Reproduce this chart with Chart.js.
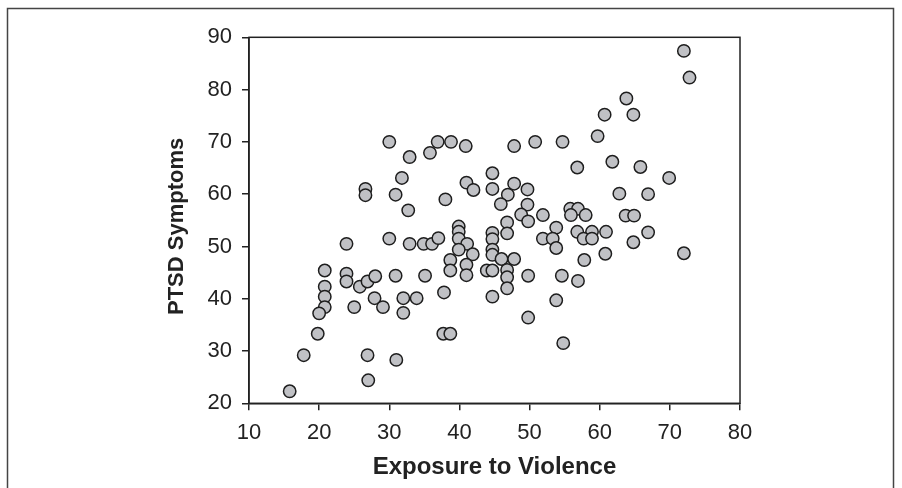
<!DOCTYPE html>
<html>
<head>
<meta charset="utf-8">
<script src="https://cdn.jsdelivr.net/npm/chart.js@4.4.1/dist/chart.umd.min.js"></script>
<style>
  html, body { margin: 0; padding: 0; background: #fff; }
  #wrap { width: 902px; height: 488px; position: relative; }
</style>
</head>
<body>
<div id="wrap"><canvas id="scatter" width="902" height="488"></canvas></div>
<script>
// exposure score (x) and PTSD symptom score (y) per participant
const exposure = [
  72.0, 72.8, 63.8, 60.7, 64.8, 59.7, 30.0, 36.9, 38.8, 40.9,
  47.8, 50.8, 54.7, 32.9, 35.8, 56.8, 61.8, 65.8, 69.9, 31.8,
  44.7, 26.6, 26.6, 30.9, 38.0, 41.0, 42.0, 44.7, 47.8, 46.9,
  49.7, 45.9, 49.7, 62.8, 66.9, 32.7, 48.8, 51.9, 55.8, 56.9,
  55.9, 58.0, 63.7, 64.9, 49.8, 46.8, 53.8, 44.7, 46.8, 56.8,
  58.9, 60.9, 66.9, 44.7, 51.9, 53.3, 57.7, 58.9, 64.8, 44.7,
  53.8, 44.7, 46.0, 47.8, 60.8, 57.8, 72.0, 43.9, 44.7, 46.8,
  46.8, 49.8, 54.6, 56.9, 46.8, 44.7, 53.8, 49.8, 54.8, 23.9,
  30.0, 32.9, 34.9, 36.1, 37.0, 39.9, 39.9, 39.9, 41.1, 39.9,
  41.9, 38.7, 38.7, 41.0, 41.0, 37.8, 37.7, 38.7, 20.8, 20.8,
  20.8, 20.8, 20.0, 19.8, 17.8, 15.8, 23.9, 23.9, 25.8, 25.0,
  26.9, 28.0, 27.9, 29.1, 26.9, 27.0, 30.9, 32.0, 32.0, 33.9,
  35.1, 31.0
];
const symptoms = [
  87.4, 82.3, 78.3, 75.2, 75.2, 71.1, 70.0, 70.0, 70.0, 69.2,
  69.2, 70.0, 70.0, 67.1, 67.9, 65.1, 66.2, 65.2, 63.1, 63.1,
  64.0, 61.0, 59.8, 59.9, 59.0, 62.2, 60.8, 61.0, 62.0, 59.9,
  60.9, 58.1, 58.0, 60.1, 60.0, 56.9, 56.1, 56.0, 57.2, 57.2,
  56.0, 56.0, 55.9, 55.9, 54.8, 54.6, 53.6, 52.6, 52.5, 52.8,
  52.8, 52.8, 52.7, 51.4, 51.5, 51.5, 51.5, 51.5, 50.8, 49.4,
  49.7, 48.4, 47.6, 47.6, 48.6, 47.4, 48.7, 45.4, 45.4, 45.5,
  44.1, 44.4, 44.4, 43.4, 42.0, 40.4, 39.7, 36.4, 31.5, 50.5,
  51.5, 50.5, 50.5, 50.5, 51.6, 53.8, 52.8, 51.5, 50.5, 49.4,
  48.5, 47.4, 45.4, 46.5, 44.5, 41.2, 33.3, 33.3, 45.4, 42.3,
  40.4, 38.4, 37.2, 33.3, 29.2, 22.3, 44.8, 43.3, 42.3, 38.4,
  43.3, 44.3, 40.1, 38.4, 29.2, 24.4, 44.4, 40.1, 37.3, 40.1,
  44.4, 28.3
];
const xTicks = [10, 20, 30, 40, 50, 60, 70, 80];
const yTicks = [20, 30, 40, 50, 60, 70, 80, 90];

const points = exposure.map((x, i) => ({ x: x, y: symptoms[i] }));

const ink = '#222';
const fontFamily = "'Liberation Sans', Arial, Helvetica, sans-serif";

// closes the plot box and draws the page frame
const framePlugin = {
  id: 'frame',
  afterDraw(chart) {
    const { ctx, chartArea } = chart;
    ctx.save();
    ctx.strokeStyle = ink;
    ctx.lineWidth = 1.5;
    ctx.strokeRect(chartArea.left, chartArea.top,
      chartArea.right - chartArea.left, chartArea.bottom - chartArea.top);
    ctx.strokeStyle = '#444';
    ctx.lineWidth = 1.5;
    ctx.beginPath();
    ctx.moveTo(7.5, 488);
    ctx.lineTo(7.5, 8.5);
    ctx.lineTo(893.5, 8.5);
    ctx.lineTo(893.5, 488);
    ctx.stroke();
    ctx.restore();
  }
};

new Chart(document.getElementById('scatter').getContext('2d'), {
  type: 'scatter',
  data: {
    datasets: [{
      label: 'PTSD Symptoms',
      data: points,
      pointRadius: 6.2,
      pointHoverRadius: 6.2,
      backgroundColor: '#c0c1c5',
      borderColor: '#1e1e1e',
      borderWidth: 1.5
    }]
  },
  options: {
    responsive: false,
    animation: false,
    events: [],
    layout: {
      padding: { left: 160, right: 162, top: 37.3, bottom: 0 }
    },
    plugins: {
      legend: { display: false },
      tooltip: { enabled: false }
    },
    scales: {
      x: {
        type: 'linear',
        min: xTicks[0],
        max: xTicks[xTicks.length - 1],
        afterFit(scale) { scale.height = 84.7; },
        afterBuildTicks(scale) { scale.ticks = xTicks.map(v => ({ value: v })); },
        border: { display: true, color: ink, width: 1.5 },
        grid: { drawOnChartArea: false, drawTicks: true, tickLength: 7, tickColor: ink, lineWidth: 1.5 },
        ticks: {
          color: ink,
          padding: 9,
          font: { family: fontFamily, size: 22 }
        },
        title: {
          display: true,
          text: 'Exposure to Violence',
          color: ink,
          padding: { top: 0, bottom: 6 },
          font: { family: fontFamily, size: 24, weight: 'bold' }
        }
      },
      y: {
        type: 'linear',
        min: yTicks[0],
        max: yTicks[yTicks.length - 1],
        afterFit(scale) { scale.width = 89; },
        afterBuildTicks(scale) { scale.ticks = yTicks.map(v => ({ value: v })); },
        border: { display: true, color: ink, width: 1.5 },
        grid: { drawOnChartArea: false, drawTicks: true, tickLength: 7, tickColor: ink, lineWidth: 1.5 },
        ticks: {
          color: ink,
          padding: 10,
          font: { family: fontFamily, size: 22 }
        },
        title: {
          display: true,
          text: 'PTSD Symptoms  ',
          color: ink,
          padding: { top: 4, bottom: 0 },
          font: { family: fontFamily, size: 22, weight: 'bold' }
        }
      }
    }
  },
  plugins: [framePlugin]
});
</script>
</body>
</html>
